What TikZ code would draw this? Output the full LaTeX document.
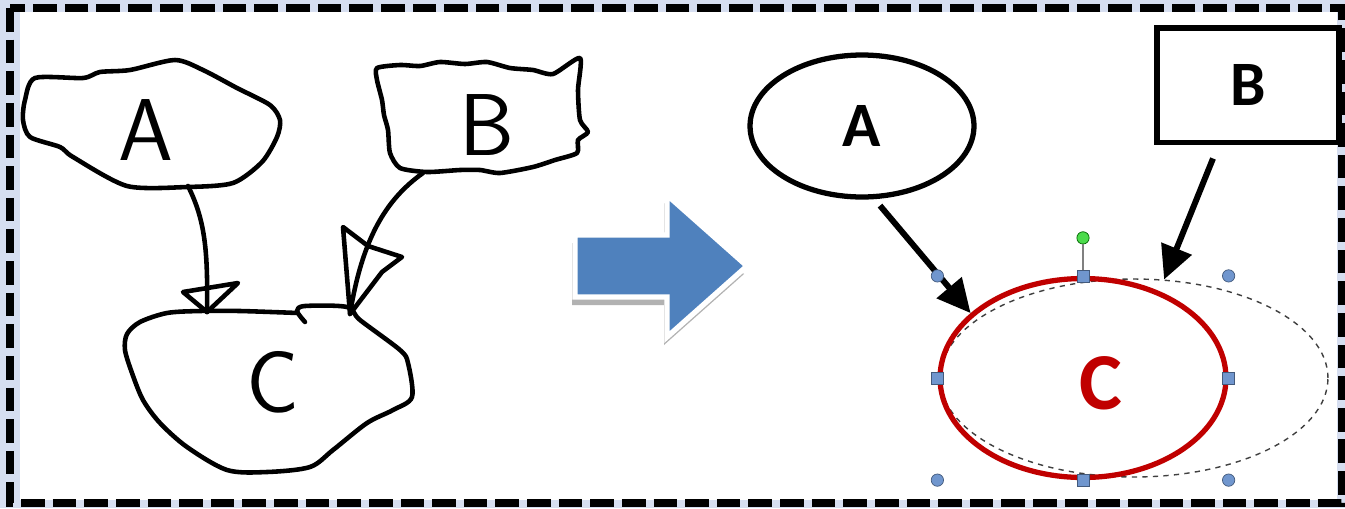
\documentclass[tikz,border=0pt]{standalone}
\usepackage{fontspec}
\setmainfont{Carlito}
\usetikzlibrary{arrows.meta,shapes.geometric,calc}
\definecolor{frameblue}{RGB}{214,222,240}
\definecolor{arrowblue}{RGB}{79,129,189}
\definecolor{handleblue}{RGB}{112,150,206}
\definecolor{darkred}{RGB}{192,0,0}
\tikzset{
  sketch/.style={line width=2.6pt, line join=round, line cap=round},
  handtext/.style={font=\sffamily\fontsize{50}{50}\selectfont},
  shapetext/.style={font=\bfseries\fontsize{36}{36}\selectfont},
  conn/.style={line width=3.4pt, -{Triangle[length=19pt,width=18pt]}},
  sqhandle/.style={draw=handleblue!60!black, fill=handleblue, line width=0.4pt, minimum size=6.8pt, inner sep=0pt},
  rdhandle/.style={circle, draw=handleblue!60!black, fill=handleblue, line width=0.4pt, minimum size=7pt, inner sep=0pt}
}
\begin{document}
\begin{tikzpicture}[x=0.02cm, y=-0.02cm]
  \useasboundingbox (0,0) rectangle (1345,508);

	% Frame
	\fill[frameblue] (0,0) rectangle (1345,508);
	\fill[white] (20,12) rectangle (1337,500);
	\draw[line width=4pt, dash pattern=on 13.5pt off 4.5pt] (10,8) rectangle (1341,503);

	% Sketch
	\draw[sketch] plot[smooth cycle, tension=0.45] coordinates {(35,78) (83,78) (100,72) (130,70) (175,60) (203,70) (237,88) (270,105) (280,120) (277,137) (262,162) (233,183) (187,187) (127,186) (73,157) (60,147) (30,137) (23,120) (25,100)};
	\draw[sketch] plot[smooth cycle, tension=0.4] coordinates {(377,68) (400,65) (420,66) (440,62) (465,64) (487,62) (510,68) (533,70) (553,74) (580,58) (578,90) (580,120) (588,132) (578,140) (577,153) (555,160) (533,167) (500,173) (480,170) (460,170) (427,172) (400,168) (390,153) (388,130) (384,115) (382,100) (377,80)};
	\draw[sketch] plot[smooth, tension=0.5] coordinates {(298,313) (240,311) (200,311) (167,313) (140,322) (127,334) (125,350) (132,373) (143,400) (160,423) (187,447) (227,470) (267,472) (310,467) (333,450) (367,423) (393,410) (412,397) (408,363) (400,350) (360,320) (347,307) (305,306) (297,311) (305,322)};
	\node[handtext] (sA) at (146,130) {A};
	\node[handtext] (sB) at (487,125) {B};
	\node[handtext] (sC) at (273,382) {C};

	\coordinate (aOut) at (188,186);
	\coordinate (aIn) at (207,312);
	\coordinate (bOut) at (423,173);
	\coordinate (bIn) at (350,314);
	\draw[sketch] (aOut) .. controls (205,220) and (208,250) .. (aIn);
	\draw[sketch] (183,292) -- (238,283) -- (aIn) -- cycle;
	\draw[sketch] (bOut) .. controls (385,200) and (362,240) .. (bIn);
	\draw[sketch] (343,227) -- (368,246) -- (402,257) -- (382,272) -- (bIn) -- cycle;

	% Big arrow
	\fill[gray!60, shift={(-3,8)}] (575,235) -- (667,235) -- (667,195) -- (747,266) -- (667,337) -- (667,297) -- (575,297) -- cycle;
	\filldraw[fill=arrowblue, draw=white, line width=3pt] (575,235) -- (667,235) -- (667,195) -- (747,266) -- (667,337) -- (667,297) -- (575,297) -- cycle;

	% Diagram
	\node[ellipse, draw, line width=3pt, minimum width=4.48cm, minimum height=2.84cm, inner sep=0pt, shapetext] (A) at (862,126) {A};
	\node[rectangle, draw, line width=3.4pt, minimum width=3.64cm, minimum height=2.3cm, inner sep=0pt, shapetext] (B) at (1248,85) {B};
	\node[ellipse, draw=black!75, dashed, line width=0.8pt, minimum width=7.76cm, minimum height=3.96cm] (Cold) at (1134,378) {};
	\node[ellipse, draw=darkred, line width=3pt, minimum width=5.72cm, minimum height=3.98cm,
	  label={[text=darkred, font=\bfseries\fontsize{46}{46}\selectfont, xshift=0.36cm, yshift=-0.1cm]center:C}] (C) at (1083,378) {};

	\draw[conn] ($(A.south)+(18,6)$) -- (C.150);
	\draw[conn] ($(B.south)+(-35,13)$) -- (Cold.73);

	% Handles
	\node[rdhandle, fill=green!80!black!70, draw=green!40!black] (rot) at ($(C.north)+(0,-38)$) {};
	\draw[gray, line width=1pt] (rot) -- (C.north);
	\node[sqhandle] (hN) at (C.north) {};
	\node[sqhandle] (hS) at (C.south) {};
	\node[sqhandle] (hW) at (C.west) {};
	\node[sqhandle] (hE) at (C.east) {};
	\node[rdhandle] (hNW) at (C.west |- C.north) {};
	\node[rdhandle] (hNE) at (C.east |- C.north) {};
	\node[rdhandle] (hSW) at (C.west |- C.south) {};
	\node[rdhandle] (hSE) at (C.east |- C.south) {};
\end{tikzpicture}
\end{document}
